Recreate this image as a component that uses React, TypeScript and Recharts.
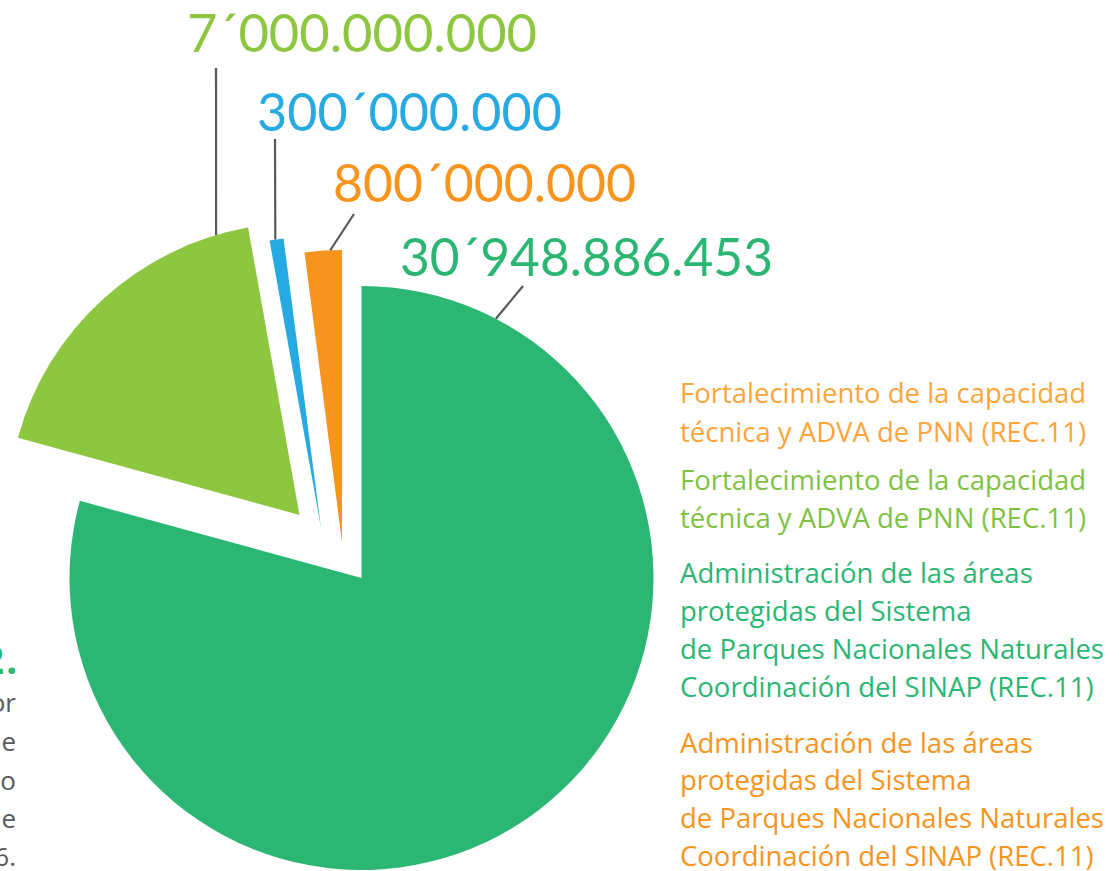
import React from 'react';
import { PieChart, Pie, Cell } from 'recharts';

// ---- data ----
const SLICE_NAMES = [
  'Administración de las áreas protegidas (SINAP)',
  'Fortalecimiento de la capacidad técnica y ADVA de PNN',
  'Otros',
  'Administración de las áreas protegidas (complemento)',
];
const SLICE_VALUES = [30948886453, 7000000000, 300000000, 800000000];
const SLICE_LABELS = ['30´948.886.453', '7´000.000.000', '300´000.000', '800´000.000'];

const LEGEND_BLOCKS = [
  ['Fortalecimiento de la capacidad', 'técnica y ADVA de PNN (REC.11)'],
  ['Fortalecimiento de la capacidad', 'técnica y ADVA de PNN (REC.11)'],
  [
    'Administración de las áreas',
    'protegidas del Sistema',
    'de Parques Nacionales Naturales',
    'Coordinación del SINAP (REC.11)',
  ],
  [
    'Administración de las áreas',
    'protegidas del Sistema',
    'de Parques Nacionales Naturales',
    'Coordinación del SINAP (REC.11)',
  ],
];
const CAPTION_TITLE = 'Gráfica 2';
const CAPTION_TITLE_END = '.';
const CAPTION_LINES = ['por', 'de', 'o', 'de', '2016.'];

// ---- styles / layout ----
const W = 1119;
const H = 871;
const COLORS = ['#2BB673', '#8DC63F', '#27AAE1', '#F7941E'];
const LEGEND_COLORS = ['#FBA53C', '#7FC243', '#2BB673', '#F7941E'];
const CX = 361.5;
const CY = 578;
const R = 292;
const OFFSETS = [
  [0, 0],
  [-62, -63],
  [-40.5, -50],
  [-19.5, -36],
];
const LEADER_ANGLE = [62.6, 106.6, 99.0, 92.3];
const LEADER_END = [
  [523, 286],
  [216, 68],
  [275, 139],
  [354, 214],
];
const LABEL_POS = [
  { x: 400, y: 276, w: 373 },
  { x: 187, y: 52, w: 350 },
  { x: 257, y: 131, w: 305 },
  { x: 333, y: 202, w: 303 },
];
const LEGEND_X = 680;
const LEGEND_BASELINES = [
  [403, 442],
  [490, 528],
  [583, 621, 659, 697],
  [753, 790, 828, 866],
];
const CAPTION_BASELINES = [712, 751, 790, 828, 866];

const data = SLICE_NAMES.map((name, i) => ({
  name,
  value: SLICE_VALUES[i],
  label: SLICE_LABELS[i],
}));

const makeLabel = (k: number) => (props: any) => {
  if (props.index !== k) return null;
  const { cx, cy, outerRadius } = props;
  const a = (LEADER_ANGLE[k] * Math.PI) / 180;
  const sx = cx + outerRadius * Math.cos(a);
  const sy = cy - outerRadius * Math.sin(a);
  const [ex, ey] = LEADER_END[k];
  const p = LABEL_POS[k];
  return (
    <g>
      <line x1={sx} y1={sy} x2={ex} y2={ey} stroke="#58595B" strokeWidth={2.2} />
      <text
        x={p.x}
        y={p.y}
        fill={COLORS[k]}
        fontFamily="Lato, 'DejaVu Sans', sans-serif"
        fontSize={53}
        textLength={p.w}
        lengthAdjust="spacingAndGlyphs"
      >
        {data[k].label}
      </text>
    </g>
  );
};

export default function App() {
  return (
    <div style={{ position: 'absolute', left: 0, top: 0, width: W, height: H, background: '#fff', overflow: 'hidden' }}>
      <PieChart width={W} height={H} margin={{ top: 0, right: 0, bottom: 0, left: 0 }}>
        {data.map((_, k) => (
          <Pie
            key={k}
            data={data}
            dataKey="value"
            nameKey="name"
            cx={CX + OFFSETS[k][0]}
            cy={CY + OFFSETS[k][1]}
            innerRadius={0}
            outerRadius={R}
            startAngle={90}
            endAngle={-270}
            stroke="none"
            isAnimationActive={false}
            label={makeLabel(k)}
            labelLine={false}
          >
            {data.map((__, i) => (
              <Cell
                key={i}
                fill={i === k ? COLORS[i] : 'transparent'}
                fillOpacity={i === k ? 1 : 0}
                stroke="none"
              />
            ))}
          </Pie>
        ))}
      </PieChart>
      <svg
        width={W}
        height={H}
        style={{ position: 'absolute', left: 0, top: 0, pointerEvents: 'none' }}
      >
        {LEGEND_BLOCKS.map((lines, b) =>
          lines.map((line, j) => (
            <text
              key={`${b}-${j}`}
              x={LEGEND_X}
              y={LEGEND_BASELINES[b][j]}
              fill={LEGEND_COLORS[b]}
              fontFamily="'Open Sans', sans-serif"
              fontSize={27.5}
            >
              {line}
            </text>
          ))
        )}
        <text
          x={4}
          y={674}
          textAnchor="end"
          fill="#2BB673"
          fontFamily="'Open Sans', sans-serif"
          fontWeight={700}
          fontSize={40}
        >
          {CAPTION_TITLE}
        </text>
        <text
          x={6}
          y={674}
          fill="#2BB673"
          fontFamily="'Open Sans', sans-serif"
          fontWeight={700}
          fontSize={40}
        >
          {CAPTION_TITLE_END}
        </text>
        {CAPTION_LINES.map((line, j) => (
          <text
            key={j}
            x={16}
            y={CAPTION_BASELINES[j]}
            textAnchor="end"
            fill="#58595B"
            fontFamily="'Open Sans', sans-serif"
            fontSize={26}
          >
            {line}
          </text>
        ))}
      </svg>
    </div>
  );
}
